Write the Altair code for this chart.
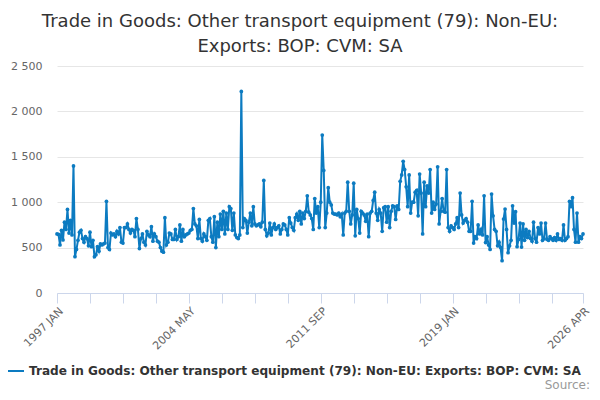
import altair as alt
import pandas as pd

month_names = ["JAN", "FEB", "MAR", "APR", "MAY", "JUN", "JUL", "AUG", "SEP", "OCT", "NOV", "DEC"]

v1997 = [650, 645, 530, 690, 585, 780, 700, 920, 660, 800, 640, 1400]
v1998 = [400, 480, 580, 670, 690, 600, 560, 620, 600, 520, 670, 510]
v1999 = [580, 400, 420, 510, 460, 540, 530, 540, 550, 1010, 500, 480]
v2000 = [660, 640, 650, 620, 680, 650, 720, 560, 550, 720, 720, 760]
v2001 = [700, 660, 700, 690, 620, 820, 700, 490, 600, 650, 560, 530]
v2002 = [680, 640, 620, 730, 570, 650, 620, 570, 560, 500, 460, 450]
v2003 = [830, 530, 560, 660, 650, 590, 590, 700, 590, 620, 750, 570]
v2004 = [700, 620, 640, 650, 660, 690, 700, 930, 760, 740, 600, 810]
v2005 = [600, 570, 650, 620, 580, 800, 820, 620, 560, 840, 500, 780]
v2006 = [620, 870, 700, 900, 650, 880, 700, 950, 930, 690, 880, 640]
v2007 = [610, 600, 640, 2220, 720, 820, 800, 660, 780, 880, 740, 950]
v2008 = [760, 740, 750, 760, 730, 780, 1240, 700, 630, 660, 770, 640]
v2009 = [720, 760, 700, 720, 740, 650, 700, 760, 750, 700, 640, 830]
v2010 = [770, 720, 690, 830, 870, 800, 900, 760, 880, 820, 900, 1070]
v2011 = [890, 860, 820, 700, 1040, 880, 950, 720, 1000, 1740, 1350, 720]
v2012 = [880, 1160, 1000, 970, 880, 870, 870, 860, 880, 840, 870, 640]
v2013 = [880, 900, 1220, 900, 760, 860, 1210, 630, 920, 820, 660, 900]
v2014 = [880, 860, 790, 870, 620, 880, 900, 1020, 1110, 880, 800, 920]
v2015 = [880, 680, 940, 950, 780, 950, 720, 900, 960, 950, 810, 960]
v2016 = [920, 1230, 1300, 1450, 1360, 1170, 950, 1300, 880, 1000, 1000, 1110]
v2017 = [1130, 850, 1310, 1100, 650, 1220, 950, 1180, 1100, 1360, 880, 1000]
v2018 = [920, 980, 1390, 760, 900, 1040, 900, 890, 1360, 720, 680, 740]
v2019 = [720, 700, 760, 830, 720, 1100, 860, 770, 800, 820, 780, 680]
v2020 = [680, 1010, 550, 620, 600, 750, 650, 700, 640, 1070, 555, 620]
v2021 = [530, 480, 1090, 850, 700, 680, 520, 560, 500, 356, 815, 925]
v2022 = [700, 444, 520, 580, 960, 770, 895, 510, 590, 770, 506, 760]
v2023 = [580, 700, 610, 680, 600, 570, 780, 600, 560, 720, 650, 770]
v2024 = [580, 600, 770, 590, 580, 620, 600, 580, 610, 580, 650, 590]
v2025 = [600, 580, 750, 580, 600, 620, 1010, 950, 1050, 700, 560, 880]
v2026 = [560, 620, 600, 650]

yearly = [v1997, v1998, v1999, v2000, v2001, v2002, v2003, v2004, v2005, v2006,
          v2007, v2008, v2009, v2010, v2011, v2012, v2013, v2014, v2015, v2016,
          v2017, v2018, v2019, v2020, v2021, v2022, v2023, v2024, v2025, v2026]

series_name = "Trade in Goods: Other transport equipment (79): Non-EU: Exports: BOP: CVM: SA"

rows = []
idx = 0
for k, vals in enumerate(yearly):
    year = 1997 + k
    for m, v in enumerate(vals):
        rows.append({"idx": idx, "label": f"{year} {month_names[m]}", "value": v, "series": series_name})
        idx += 1
df = pd.DataFrame(rows)

last = len(df) - 1
tick_values = list(range(0, 331, 22)) + [last]
label_ticks = [0, 88, 176, 264, last]
label_map = {i: df.loc[i, "label"] for i in label_ticks}
label_expr = " : ".join([f"datum.value == {i} ? '{t}'" for i, t in label_map.items()]) + " : ''"

blue = "#0c7bc1"

base = alt.Chart(df)

line = base.mark_line(strokeWidth=2, point=alt.OverlayMarkDef(size=14, filled=True, color=blue)).encode(
    x=alt.X("idx:Q", scale=alt.Scale(domain=[0, last], nice=False, zero=False),
            axis=alt.Axis(values=tick_values, labelExpr=label_expr, title=None, grid=False,
                          labelAngle=-45, labelFontSize=11, labelColor="#666666",
                          labelFont="DejaVu Sans", domainColor="#ccd6eb", tickColor="#ccd6eb",
                          tickSize=10, labelPadding=2, labelOverlap=False, labelBound=False,
                          labelFlush=False)),
    y=alt.Y("value:Q", scale=alt.Scale(domain=[0, 2500], nice=False),
            axis=alt.Axis(values=[0, 500, 1000, 1500, 2000, 2500],
                          labelExpr="replace(format(datum.value, ','), ',', ' ')",
                          title=None, domain=False, ticks=False, gridColor="#e6e6e6",
                          labelFontSize=11, labelColor="#666666", labelFont="DejaVu Sans",
                          labelPadding=15)),
    color=alt.Color("series:N", scale=alt.Scale(range=[blue]),
                    legend=alt.Legend(orient="none", legendX=-50, legendY=296, title=None,
                                      labelFontSize=12.1, labelFontWeight="bold",
                                      labelColor="#333333", labelFont="DejaVu Sans",
                                      labelLimit=0, symbolType="stroke", symbolStrokeWidth=2,
                                      symbolSize=256, labelOffset=4)),
)

source = alt.Chart(pd.DataFrame({"t": ["Source:"]})).mark_text(
    align="right", baseline="alphabetic", fontSize=12, color="#999999", font="DejaVu Sans"
).encode(text="t:N", x=alt.value(533), y=alt.value(323))

chart = alt.layer(line, source).properties(
    width=526,
    height=227,
    padding={"left": 49, "top": 58, "right": 9, "bottom": 99},
    autosize=alt.AutoSizeParams(type="none"),
    title=alt.TitleParams(
        text=["Trade in Goods: Other transport equipment (79): Non-EU:", "Exports: BOP: CVM: SA"],
        fontSize=18, font="DejaVu Sans", fontWeight="normal", color="#333333",
        anchor="middle", dx=-20, offset=4, lineHeight=25,
    ),
).configure_view(stroke=None)

chart.save("out.html", embed_options={"renderer": "svg", "actions": False})
